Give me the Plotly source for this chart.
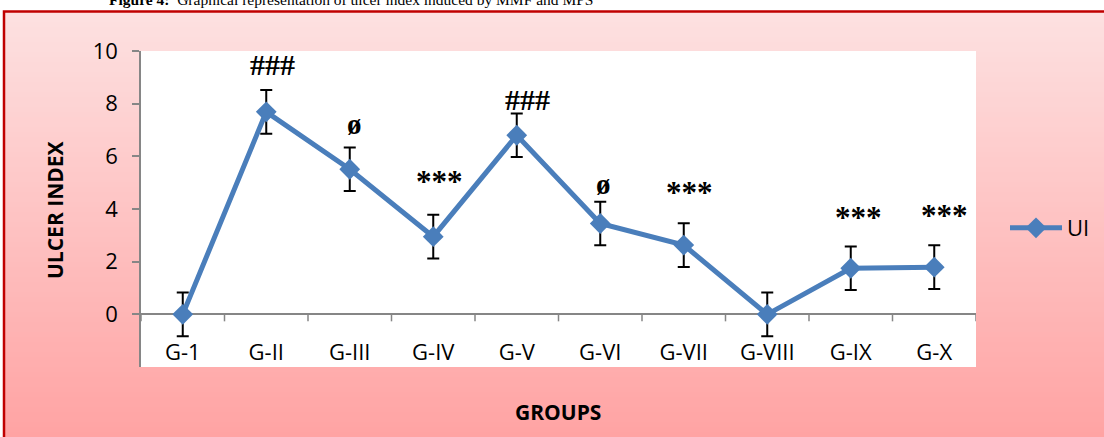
import plotly.graph_objects as go

# ---- data ----
groups = ["G-1", "G-II", "G-III", "G-IV", "G-V", "G-VI", "G-VII", "G-VIII", "G-IX", "G-X"]
ulcer_index = [0.0, 7.69, 5.51, 2.95, 6.80, 3.45, 2.63, 0.0, 1.75, 1.79]
ulcer_err = [0.83, 0.83, 0.83, 0.83, 0.83, 0.83, 0.83, 0.83, 0.83, 0.83]
sig_labels = ["", "###", "ø", "***", "###", "ø", "***", "", "***", "***"]
y_ticks = [-2, 0, 2, 4, 6, 8, 10]

# ---- style ----
W, H = 1104, 437
ML, MR, MT, MB = 141, 128, 51, 70
PW, PH = W - ML - MR, H - MT - MB
BLUE = "#4a7ebb"
AXIS_GRAY = "#868686"
TICK_FONT = dict(family="Open Sans, Liberation Sans, sans-serif", size=22, color="#000000")

# per-label offsets (pixels) relative to data point: (xshift, yshift)
label_offsets = [(0, 0), (6, 47), (5, 45), (6, 52), (11, 36), (3, 39), (6, 50), (0, 0), (8, 48), (10, 49)]


def px_to_paper_x(px):
    return (px - ML) / PW


def px_to_paper_y(py):
    return (H - MB - py) / PH


fig = go.Figure()

fig.add_trace(go.Scatter(
    x=groups,
    y=ulcer_index,
    mode="lines+markers",
    name="UI",
    line=dict(color=BLUE, width=5),
    marker=dict(symbol="diamond", size=16, color=BLUE),
    error_y=dict(type="data", array=ulcer_err, visible=True, color="#000000", thickness=2, width=6),
))

shapes = []
# background gradient of the chart area (vertical)
top_px, bot_px = 12, H
n_bands = 85
c_top = (253, 225, 225)
c_bot = (255, 163, 163)
for i in range(n_bands):
    y0 = top_px + (bot_px - top_px) * i / n_bands
    y1 = top_px + (bot_px - top_px) * (i + 1) / n_bands + 0.6
    t = (i + 0.5) / n_bands
    c = tuple(round(c_top[k] + (c_bot[k] - c_top[k]) * t) for k in range(3))
    shapes.append(dict(type="rect", xref="paper", yref="paper", layer="below",
                       x0=px_to_paper_x(4), x1=px_to_paper_x(W + 10),
                       y0=px_to_paper_y(y1), y1=px_to_paper_y(y0),
                       line=dict(width=0), fillcolor="rgb(%d,%d,%d)" % c))
# white plot area
shapes.append(dict(type="rect", xref="paper", yref="paper", layer="below",
                   x0=0, x1=1, y0=0, y1=1, line=dict(width=0), fillcolor="#ffffff"))
# outer red border
shapes.append(dict(type="rect", xref="paper", yref="paper", layer="below",
                   x0=px_to_paper_x(4), x1=px_to_paper_x(W + 20),
                   y0=px_to_paper_y(H + 20), y1=px_to_paper_y(11.5),
                   line=dict(color="#c00000", width=2.5), fillcolor="rgba(0,0,0,0)"))
# category-boundary tick marks on the zero line
for i in range(len(groups) + 1):
    shapes.append(dict(type="line", xref="x", yref="y", ysizemode="pixel", yanchor=0,
                       x0=i - 0.5, x1=i - 0.5, y0=0, y1=-7,
                       line=dict(color=AXIS_GRAY, width=1.5)))

annotations = []
for i, (g, v, lab) in enumerate(zip(groups, ulcer_index, sig_labels)):
    if not lab:
        continue
    xs, ys = label_offsets[i]
    is_star = lab.startswith("*")
    annotations.append(dict(
        x=g, y=v, xref="x", yref="y", text="<b>%s</b>" % lab, showarrow=False,
        xshift=xs, yshift=ys + (3 if is_star else 0), yanchor="middle", xanchor="center",
        font=dict(family="Liberation Serif, Times New Roman, serif",
                  size=31 if is_star else (30 if lab == "###" else 29), color="#000000"),
    ))

# axis titles
annotations.append(dict(text="<b>ULCER INDEX</b>", xref="paper", yref="paper",
                        x=px_to_paper_x(55), y=px_to_paper_y(210), textangle=-90,
                        showarrow=False, xanchor="center", yanchor="middle",
                        font=dict(family="Open Sans, Liberation Sans, sans-serif", size=21, color="#000000")))
annotations.append(dict(text="<b>GROUPS</b>", xref="paper", yref="paper",
                        x=px_to_paper_x(558), y=px_to_paper_y(412),
                        showarrow=False, xanchor="center", yanchor="middle",
                        font=dict(family="Open Sans, Liberation Sans, sans-serif", size=21, color="#000000")))
# cut-off caption at the very top
annotations.append(dict(text="<b>Figure 4:</b>  Graphical representation of ulcer index induced by MMF and MPS",
                        xref="paper", yref="paper", x=px_to_paper_x(107), y=px_to_paper_y(-1),
                        showarrow=False, xanchor="left", yanchor="middle",
                        font=dict(family="Liberation Serif, Times New Roman, serif", size=15.5, color="#000000")))

fig.update_layout(
    width=W, height=H,
    margin=dict(l=ML, r=MR, t=MT, b=MB, pad=0, autoexpand=False),
    paper_bgcolor="#ffffff",
    plot_bgcolor="#ffffff",
    shapes=shapes,
    annotations=annotations,
    showlegend=True,
    legend=dict(x=px_to_paper_x(1005), y=px_to_paper_y(228), xanchor="left", yanchor="middle",
                bgcolor="rgba(0,0,0,0)", font=TICK_FONT, borderwidth=0, itemwidth=52),
    xaxis=dict(type="category", range=[-0.5, len(groups) - 0.5], showgrid=False, showline=False,
               zeroline=False, ticks="", ticklabelposition="inside", tickfont=TICK_FONT,
               fixedrange=True, automargin=False),
    yaxis=dict(range=[-2, 10], tickvals=y_ticks, showgrid=False, showline=True,
               linecolor=AXIS_GRAY, linewidth=1.5, ticks="outside", ticklen=7,
               tickcolor=AXIS_GRAY, tickwidth=1.5, zeroline=True, zerolinecolor=AXIS_GRAY,
               zerolinewidth=1.5, tickfont=TICK_FONT, ticklabelstandoff=10, fixedrange=True,
               automargin=False),
)

fig.write_html("out.html", config={"displayModeBar": False},
               post_script="document.body.style.margin='0';document.body.style.overflow='hidden';")
